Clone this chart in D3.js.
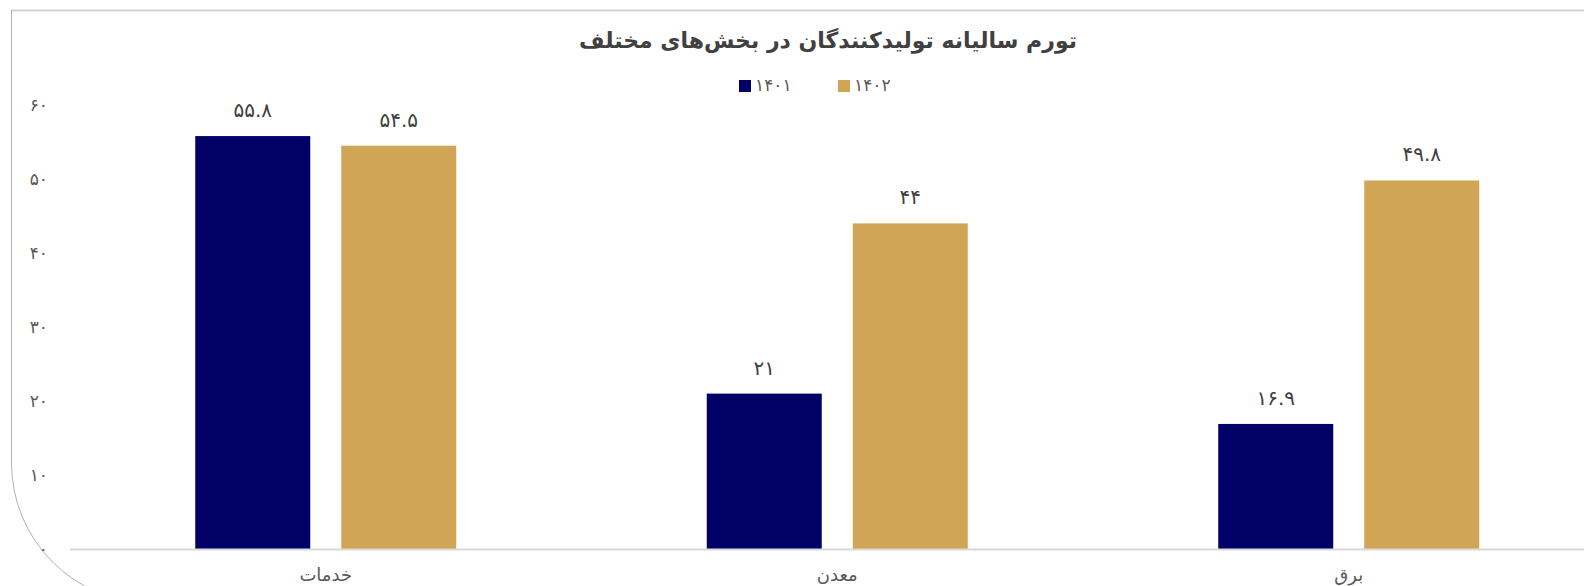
<!DOCTYPE html>
<html>
<head>
<meta charset="utf-8">
<script src="https://cdn.jsdelivr.net/npm/d3@7"></script>
<style>
  body { margin: 0; background: #fff; }
  text { font-family: "DejaVu Sans", sans-serif; }
</style>
</head>
<body>
<svg id="chart" width="1584" height="586"></svg>
<script>
// data
var categories = ['خدمات', 'معدن', 'برق'];
var series = ['۱۴۰۱', '۱۴۰۲'];
var values1401 = [55.8, 21, 16.9];
var values1402 = [54.5, 44, 49.8];
var yTicks = [0, 10, 20, 30, 40, 50, 60];
var title = 'تورم سالیانه تولیدکنندگان در بخش\u200Cهای مختلف';

var colors = ['#000066', '#d0a656'];

// swap latin digits for persian ones
function fa(v) {
  return String(v).replace(/[0-9]/g, function (d) { return '۰۱۲۳۴۵۶۷۸۹'[+d]; });
}

var svg = d3.select('#chart');

// frame: top line + left edge with a big rounded bottom-left corner
svg.append('line')
  .attr('x1', 11).attr('x2', 1584)
  .attr('y1', 10.5).attr('y2', 10.5)
  .attr('stroke', '#d3d3d3').attr('stroke-width', 2);
svg.append('path')
  .attr('d', 'M11.5,10 V463 A140,140 0 0 0 151.5,603')
  .attr('fill', 'none')
  .attr('stroke', '#b3b3b3').attr('stroke-width', 1);

// scales
var x0 = d3.scaleBand().domain(categories).range([70, 1604.5]);
var x1 = d3.scaleBand().domain(series)
  .range([x0.bandwidth() / 2 - 130.5, x0.bandwidth() / 2 + 130.5])
  .paddingInner(31 / 146);
var y = d3.scaleLinear().domain([0, 60]).range([549, 105]);

// y axis labels only
var yAxis = svg.append('g')
  .attr('transform', 'translate(48,0)')
  .call(d3.axisLeft(y).tickValues(yTicks).tickSize(0).tickPadding(0).tickFormat(fa));
yAxis.select('.domain').remove();
yAxis.selectAll('text')
  .attr('fill', '#595959')
  .style('font-size', '17px');

// bars
var rows = categories.map(function (c, i) {
  return { cat: c, vals: [values1401[i], values1402[i]] };
});

var groups = svg.selectAll('g.grp')
  .data(rows).enter()
  .append('g')
  .attr('class', 'grp')
  .attr('transform', function (d) { return 'translate(' + x0(d.cat) + ',0)'; });

groups.selectAll('rect')
  .data(function (d) { return d.vals.map(function (v, j) { return { s: series[j], v: v, j: j }; }); })
  .enter().append('rect')
  .attr('x', function (d) { return x1(d.s); })
  .attr('width', x1.bandwidth())
  .attr('y', function (d) { return y(d.v); })
  .attr('height', function (d) { return y(0) - y(d.v); })
  .attr('fill', function (d) { return colors[d.j]; });

groups.selectAll('text.val')
  .data(function (d) { return d.vals.map(function (v, j) { return { s: series[j], v: v }; }); })
  .enter().append('text')
  .attr('class', 'val')
  .attr('x', function (d) { return x1(d.s) + x1.bandwidth() / 2; })
  .attr('y', function (d) { return y(d.v) - 19; })
  .attr('text-anchor', 'middle')
  .attr('direction', 'ltr')
  .attr('fill', '#404040')
  .style('font-size', '20px')
  .text(function (d) { return fa(d.v); });

// x axis line + category labels
svg.append('line')
  .attr('x1', 70).attr('x2', 1584)
  .attr('y1', y(0) + 0.5).attr('y2', y(0) + 0.5)
  .attr('stroke', '#d9d9d9').attr('stroke-width', 2);

svg.selectAll('text.cat')
  .data(categories).enter()
  .append('text')
  .attr('class', 'cat')
  .attr('x', function (d) { return x0(d) + x0.bandwidth() / 2; })
  .attr('y', 581)
  .attr('text-anchor', 'middle')
  .attr('fill', '#595959')
  .style('font-size', '18px')
  .text(function (d) { return d; });

// title
svg.append('text')
  .attr('x', 828).attr('y', 48)
  .attr('text-anchor', 'middle')
  .attr('fill', '#404040')
  .style('font-size', '22px')
  .style('font-weight', 'bold')
  .text(title);

// legend
var legX = [739, 838];
var leg = svg.selectAll('g.leg')
  .data(series).enter()
  .append('g')
  .attr('class', 'leg')
  .attr('transform', function (d, i) { return 'translate(' + legX[i] + ',80)'; });
leg.append('rect')
  .attr('width', 12).attr('height', 12)
  .attr('fill', function (d, i) { return colors[i]; });
leg.append('text')
  .attr('x', 16).attr('y', 11)
  .attr('fill', '#595959')
  .style('font-size', '17px')
  .text(function (d) { return d; });
</script>
</body>
</html>
